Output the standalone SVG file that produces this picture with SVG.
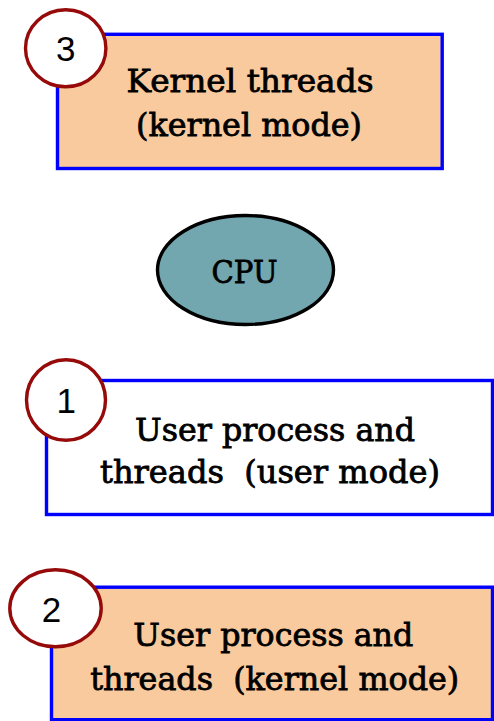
<svg xmlns="http://www.w3.org/2000/svg" width="494" height="721" viewBox="0 0 494 721">
<style>
.box{stroke:#0000ff;stroke-width:3.4}
.peach{fill:#f8ca9d}
.white{fill:#ffffff}
.badge{fill:#ffffff;stroke:#960a0a;stroke-width:3.4}
.lbl{font-family:"DejaVu Serif","Liberation Serif",serif;font-size:31px;fill:#000;stroke:#000;stroke-width:0.8;text-anchor:middle;white-space:pre}
.num{font-family:"Liberation Sans",Arial,sans-serif;font-size:35px;fill:#000;text-anchor:middle}
</style>
<rect width="494" height="721" fill="#ffffff"/>
<g id="connectors"></g>
<g id="kernel-threads">
<rect class="box peach" x="57.5" y="34.3" width="384.7" height="134.2"/>
<text class="lbl" x="250" y="92.3" textLength="247" lengthAdjust="spacingAndGlyphs">Kernel threads</text>
<text class="lbl" x="249" y="136" textLength="226" lengthAdjust="spacingAndGlyphs">(kernel mode)</text>
</g>
<g id="badge-3">
<ellipse class="badge" cx="65.7" cy="48.3" rx="40.2" ry="38.5"/>
<text class="num" x="65.7" y="61">3</text>
</g>
<g id="cpu">
<ellipse cx="245.5" cy="270" rx="88" ry="54.5" fill="#73a7b0" stroke="#000" stroke-width="3.4"/>
<text class="lbl" x="244.5" y="283.3" textLength="66" lengthAdjust="spacingAndGlyphs" style="font-size:32px">CPU</text>
</g>
<g id="user-mode">
<rect class="box white" x="46.5" y="380.5" width="446" height="134"/>
<text class="lbl" x="275" y="440.7" textLength="280" lengthAdjust="spacingAndGlyphs">User process and</text>
<text class="lbl" x="270" y="483.3" textLength="340" lengthAdjust="spacingAndGlyphs" xml:space="preserve">threads  (user mode)</text>
</g>
<g id="badge-1">
<ellipse class="badge" cx="66" cy="400" rx="39.5" ry="40.3"/>
<text class="num" x="66.3" y="413.3">1</text>
</g>
<g id="kernel-mode">
<rect class="box peach" x="51.5" y="587.2" width="441" height="132.5"/>
<text class="lbl" x="273.3" y="646" textLength="280" lengthAdjust="spacingAndGlyphs">User process and</text>
<text class="lbl" x="274.7" y="690" textLength="369" lengthAdjust="spacingAndGlyphs" xml:space="preserve">threads  (kernel mode)</text>
</g>
<g id="badge-2">
<ellipse class="badge" cx="55.5" cy="608.3" rx="45.7" ry="38.5"/>
<text class="num" x="51.5" y="621.7">2</text>
</g>
</svg>
